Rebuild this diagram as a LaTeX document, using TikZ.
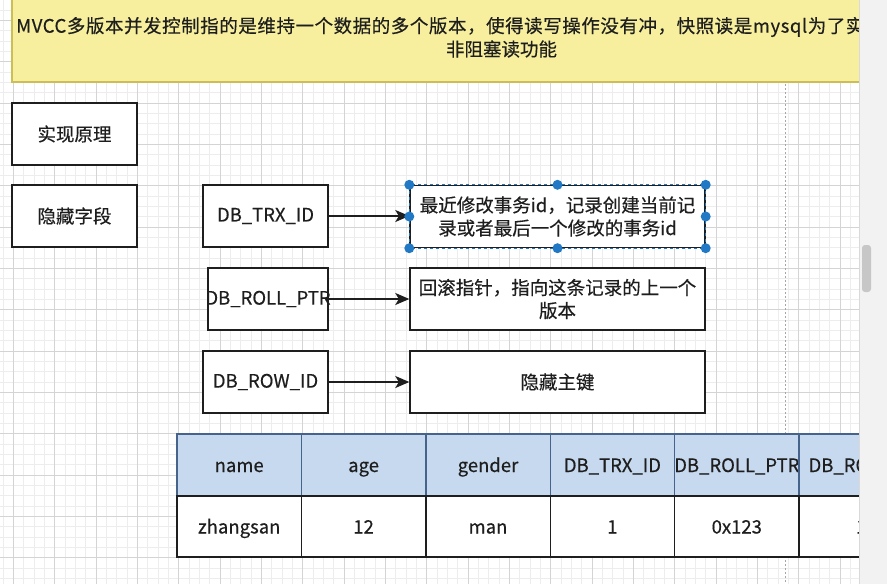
\documentclass[tikz,border=0pt]{standalone}
\usepackage{fontspec}
\setmainfont{Noto Sans CJK SC}[FakeBold=0.4]
\usetikzlibrary{positioning, arrows.meta}
\definecolor{notefill}{HTML}{F7EF9D}
\definecolor{notedraw}{HTML}{CDBD55}
\definecolor{hdrfill}{HTML}{C7D9EF}
\definecolor{hdrdraw}{HTML}{46638C}
\definecolor{selblue}{HTML}{2178C4}
\definecolor{inkblack}{HTML}{1E1E1E}

\begin{document}
\begin{tikzpicture}[
    x=1pt, y=-1pt,
    every node/.style={font=\fontsize{18.5}{23}\selectfont, text=inkblack},
    box/.style={draw=inkblack, line width=1.4pt, fill=white,
                minimum width=#1, minimum height=62pt, inner sep=1pt, align=center},
    box/.default=125pt,
    cell/.style={draw=#1, line width=1.4pt, minimum width=124.4pt, inner sep=0pt,
                 text height=18pt, text depth=4pt},
    arr/.style={-{Stealth[length=14pt, width=12pt, inset=3.5pt]}, line width=1.6pt, draw=inkblack},
    handle/.style={circle, fill=selblue, minimum size=10pt, inner sep=0pt},
  ]
  \useasboundingbox (0,0) rectangle (887,584);

  \begin{scope}
    \clip (0,0) rectangle (859,584);
    \fill[white] (0,0) rectangle (859,584);
    % canvas grid
    \foreach \k in {0,...,83} \draw[black!7, line width=0.5pt] ({2.97+10.333*\k},0) -- ++(0,584);
    \foreach \k in {0,...,56} \draw[black!7, line width=0.5pt] (0,{9.97+10.333*\k}) -- ++(859,0);
    \foreach \k in {0,...,20} \draw[black!17, line width=0.7pt] ({13.3+41.33*\k},0) -- ++(0,584);
    \foreach \k in {0,...,14} \draw[black!17, line width=0.7pt] (0,{20.3+41.33*\k}) -- ++(859,0);
    \draw[black!35, line width=0.8pt, dash pattern=on 2pt off 2pt] (785,0) -- (785,584);

    \node[draw=notedraw, fill=notefill, line width=1.2pt, minimum width=979pt,
          minimum height=88pt] (intro) at (501.5,38) {};
    \node[anchor=west, inner sep=0pt] (introtop) at (16,27)
      {\addfontfeature{LetterSpace=3}MVCC多版本并发控制指的是维持一个数据的多个版本，使得读写操作没有冲，快照读是mysql为了实现};
    \node (introbot) at (501.5,49) {非阻塞读功能};

    \node[box] (principle) at (74.5,134) {实现原理};
    \node[box] (hidden)    at (74.5,216) {隐藏字段};

    \node[box]       (trxid)   at (265.5,216) {DB\_TRX\_ID};
    \node[box=120pt] (rollptr) at (268,299)   {\makebox[110pt]{DB\_ROLL\_PTR}};
    \node[box]       (rowid)   at (265.5,382) {DB\_ROW\_ID};

    \node[box=295pt] (trxdesc)  at (557.5,216.5) {最近修改事务id，记录创建当前记\\录或者最后一个修改的事务id};
    \node[box=295pt] (rolldesc) at (557.5,299)   {回滚指针，指向这条记录的上一个\\版本};
    \node[box=295pt] (rowdesc)  at (557.5,382)   {隐藏主键};

    \draw[arr] (trxid)   -- (trxid -| trxdesc.west);
    \draw[arr] (rollptr) -- (rollptr -| rolldesc.west);
    \draw[arr] (rowid)   -- (rowid -| rowdesc.west);

    % selected shape
    \draw[selblue, line width=0.8pt, dash pattern=on 3pt off 3pt]
      (trxdesc.north west) rectangle (trxdesc.south east);
    \foreach \tag/\anc in {nw/north west, n/north, ne/north east, w/west,
                           e/east, sw/south west, s/south, se/south east}
      \node[handle] (grip-\tag) at (trxdesc.\anc) {};

    % table
    \foreach \head/\val [count=\i] in {name/zhangsan, age/12, gender/man,
        DB\_TRX\_ID/1, DB\_ROLL\_PTR/0x123, DB\_ROW\_ID/1}
      \node[cell=hdrdraw, fill=hdrfill, minimum height=62pt] (head\i) at ({114.8+124.4*\i},465) {\head};
    \foreach \head/\val [count=\i] in {name/zhangsan, age/12, gender/man,
        DB\_TRX\_ID/1, DB\_ROLL\_PTR/0x123, DB\_ROW\_ID/1}
      \node[cell=inkblack, fill=white, minimum height=61pt] (row\i) at ({114.8+124.4*\i},526.5) {\val};
  \end{scope}

  % side strip
  \fill[black!5] (859,0) rectangle (887,584);
  \draw[black!15, line width=0.6pt] (859,0) -- (859,584);
  \fill[black!22, rounded corners=3pt] (862,245) rectangle (871,292);
\end{tikzpicture}
\end{document}
